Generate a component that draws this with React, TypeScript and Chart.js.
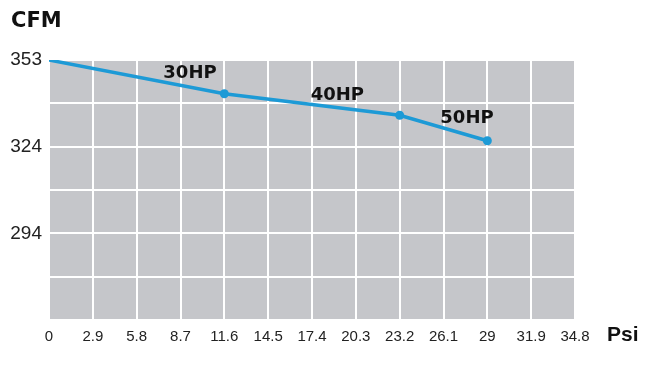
import React, { useEffect, useRef } from "react";
import { Chart, registerables } from "chart.js";

Chart.register(...registerables);

const psi = [0, 11.6, 23.2, 29];
const cfm = [353, 341.5, 334.2, 325.5];
const hpLabels = ["", "30HP", "40HP", "50HP"];
const xTickValues = [0, 2.9, 5.8, 8.7, 11.6, 14.5, 17.4, 20.3, 23.2, 26.1, 29, 31.9, 34.8];
const xTickLabels = ["0", "2.9", "5.8", "8.7", "11.6", "14.5", "17.4", "20.3", "23.2", "26.1", "29", "31.9", "34.8"];
const yTickValues = [264.5, 279.25, 294, 308.75, 323.5, 338.25, 353];
const yTickLabels = ["", "", "294", "", "324", "", "353"];
const yTitle = "CFM";
const xTitle = "Psi";

const BLUE = "#1d9ad6";
const GRAY = "#c5c6ca";
const labelOffsets = [
  [0, 0],
  [-61, -16],
  [-89, -15],
  [-47, -18],
];

const textPlugin = {
  id: "textPlugin",
  beforeDraw(chart: any) {
    const { ctx, chartArea } = chart;
    ctx.save();
    ctx.fillStyle = GRAY;
    ctx.fillRect(chartArea.left, chartArea.top, chartArea.right - chartArea.left, chartArea.bottom - chartArea.top);
    ctx.restore();
  },
  afterDatasetsDraw(chart: any) {
    const { ctx } = chart;
    const meta = chart.getDatasetMeta(0);
    ctx.save();
    ctx.fillStyle = "#111";
    ctx.textAlign = "left";
    ctx.textBaseline = "alphabetic";
    ctx.font = "bold 18px 'DejaVu Sans'";
    meta.data.forEach((pt: any, i: number) => {
      if (!hpLabels[i]) return;
      const [dx, dy] = labelOffsets[i];
      ctx.fillText(hpLabels[i], pt.x + dx, pt.y + dy);
    });
    ctx.font = "bold 21px 'DejaVu Sans'";
    ctx.fillText(yTitle, 11, 27);
    ctx.font = "bold 21px 'Liberation Sans'";
    ctx.fillText(xTitle, 607, 341);
    ctx.restore();
  },
};

export default function App() {
  const ref = useRef<HTMLCanvasElement>(null);
  useEffect(() => {
    if (!ref.current) return;
    const chart = new Chart(ref.current, {
      type: "line",
      data: {
        datasets: [
          {
            data: psi.map((x, i) => ({ x, y: cfm[i] })),
            borderColor: BLUE,
            backgroundColor: BLUE,
            borderWidth: 3.5,
            pointRadius: [0, 4.5, 4.5, 4.5],
            pointHoverRadius: 0,
            pointBorderWidth: 0,
            tension: 0,
          },
        ],
      },
      options: {
        responsive: false,
        animation: false,
        events: [],
        layout: { padding: { left: 0, top: 60, right: 80, bottom: 0 } },
        plugins: { legend: { display: false }, tooltip: { enabled: false } },
        scales: {
          x: {
            type: "linear",
            min: 0,
            max: 34.8,
            afterBuildTicks: (scale: any) => {
              scale.ticks = xTickValues.map((v) => ({ value: v }));
            },
            afterFit: (scale: any) => {
              scale.height = 51;
            },
            grid: { color: "#ffffff", lineWidth: 2, drawTicks: false },
            border: { display: false },
            ticks: {
              padding: 8,
              color: "#222",
              maxRotation: 0,
              autoSkip: false,
              font: { family: "'Liberation Sans'", size: 15 },
              callback: (_v: any, i: number) => xTickLabels[i],
            },
          },
          y: {
            type: "linear",
            min: 264.5,
            max: 353,
            afterBuildTicks: (scale: any) => {
              scale.ticks = yTickValues.map((v) => ({ value: v }));
            },
            afterFit: (scale: any) => {
              scale.width = 49;
            },
            grid: { color: "#ffffff", lineWidth: 2, drawTicks: false },
            border: { display: false },
            ticks: {
              padding: 7,
              color: "#222",
              autoSkip: false,
              font: { family: "'Liberation Sans'", size: 19 },
              callback: (_v: any, i: number) => yTickLabels[i],
            },
          },
        },
      },
      plugins: [textPlugin],
    });
    return () => chart.destroy();
  }, []);
  return (
    <div style={{ position: "absolute", left: 0, top: 0, width: 655, height: 371, background: "#fff" }}>
      <canvas ref={ref} width={655} height={371} />
    </div>
  );
}
